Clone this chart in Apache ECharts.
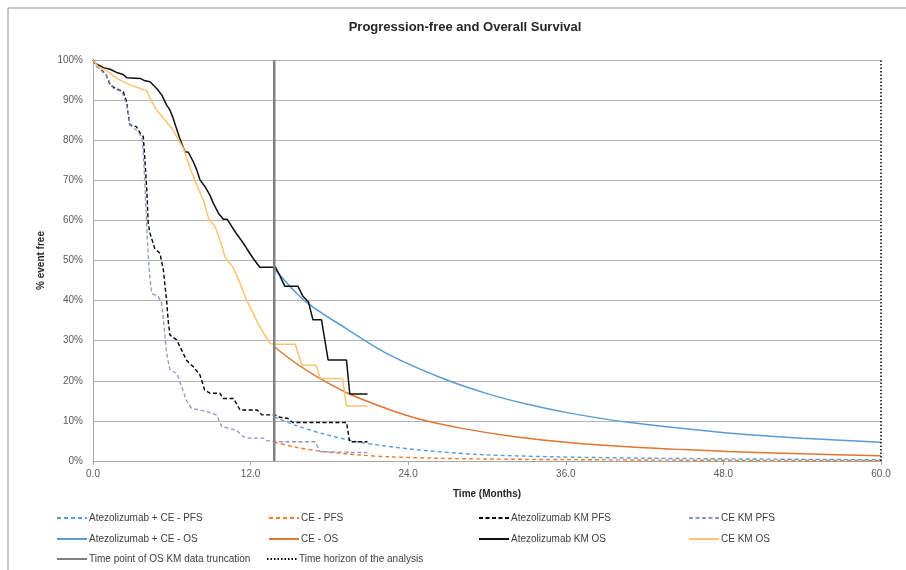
<!DOCTYPE html>
<html>
<head>
<meta charset="utf-8">
<script src="https://cdn.jsdelivr.net/npm/echarts@6/dist/echarts.min.js"></script>
<style>html,body{margin:0;padding:0;background:#fff}#c{width:906px;height:570px}</style>
</head>
<body>
<div id="c"></div>
<script>
// ---- data (months, % event free) ----
var xTicks = [0, 12, 24, 36, 48, 60];
var truncationTime = 13.8;
var horizonTime = 60;

var atezoCeOsFit = [[13.8,48],[16.1,40],[19.2,33.2],[22.5,26.6],[26.7,20.5],[30,16.8],[33,14.2],[36.2,12],[40.6,9.7],[48.3,7],[54,5.7],[60,4.7]];
var ceOsFit = [[13.8,28.5],[15.4,24.5],[17.1,20.9],[19.4,16.9],[22.5,12.9],[24.9,10.4],[28,8.2],[32,6.1],[36.2,4.6],[42,3.3],[48.3,2.4],[54,1.8],[60,1.3]];
var atezoCePfsFit = [[13.8,11],[15.5,8.8],[17.5,6.8],[20.1,4.8],[22.6,3.6],[25,2.7],[29.5,1.6],[35,1.05],[42,0.7],[50,0.5],[60,0.3]];
var cePfsFit = [[13.8,4.7],[15.5,3.4],[17.4,2.4],[20.5,1.45],[22.5,1.05],[26,0.7],[30,0.5],[36,0.35],[45,0.2],[60,0.1]];

var atezoKmOs = [[0,100],[0.15,99.2],[0.8,98.1],[1.3,97.7],[1.8,96.9],[2.3,96.4],[2.56,95.6],[3.6,95.4],[3.96,94.8],[4.34,94.6],[4.85,92.9],[5.23,91.3],[5.6,88.8],[5.86,87.5],[6.1,85.5],[6.6,80.5],[7.0,77.1],[7.26,77],[7.64,74.6],[7.9,72.6],[8.15,70.1],[8.53,68.4],[8.9,66.3],[9.16,64.3],[9.55,61.8],[9.93,60.3],[10.2,60.3],[10.4,59.3],[10.9,56.8],[11.45,54.3],[11.7,53],[12.2,50.5],[12.7,48.3],[13.9,48.3],[14.2,46.4],[14.6,43.6],[15.6,43.6],[16.0,41],[16.4,39.7],[16.75,35.2],[17.4,35.2],[17.9,25.2],[19.3,25.2],[19.55,16.7],[20.9,16.7]];
var ceKmOs = [[0,100],[0.4,98.3],[0.9,97.5],[1.3,96.7],[1.8,95.4],[2.3,94.6],[2.8,93.8],[3.6,92.9],[4.1,92.3],[4.47,89.6],[4.85,87.5],[5.36,85.5],[6.0,83],[6.37,80.9],[6.88,78],[7.4,73],[7.9,68.8],[8.4,65.1],[8.8,60.5],[9.3,58.4],[9.67,55.1],[10.05,50.9],[10.7,48.1],[11.2,44.3],[11.7,40.1],[12.2,36.8],[12.6,34],[13.0,31.8],[13.5,29.3],[13.8,29.1],[15.4,29.1],[15.9,23.9],[17.0,23.9],[17.3,20.6],[19.0,20.6],[19.3,13.7],[20.9,13.7]];
var atezoKmPfs = [[0,100],[0.5,97.9],[1.0,96.3],[1.3,93.8],[1.7,92.9],[2.3,92.1],[2.56,89.6],[2.8,83.8],[3.3,83.4],[3.6,81.7],[3.83,80.9],[3.96,74.6],[4.1,67.4],[4.2,59.3],[4.34,56.8],[4.7,53],[5.1,51.8],[5.36,47.6],[5.6,40.1],[5.74,34.5],[5.86,31.4],[6.37,30.2],[6.75,27.7],[7.1,25.2],[7.64,23.5],[8.15,21.4],[8.5,17.7],[8.9,16.9],[9.67,16.9],[9.9,15.6],[10.7,15.6],[11.2,12.7],[12.5,12.7],[12.85,11.5],[13.86,11.5],[14.1,11],[14.85,10.6],[15.2,9.6],[19.3,9.6],[19.55,4.8],[20.9,4.8]];
var ceKmPfs = [[0,100],[0.28,98.3],[1.0,96.3],[1.3,94.2],[1.55,92.9],[2.2,92.1],[2.4,90.4],[2.7,87.1],[2.8,83.8],[3.3,82.5],[3.7,80.9],[3.83,77.1],[3.96,68],[4.14,55.1],[4.3,46.8],[4.47,41.8],[4.97,41],[5.23,39.3],[5.4,34],[5.6,26.9],[5.86,22.7],[6.37,21.9],[6.75,18.5],[7.1,15.2],[7.5,13.1],[8.15,12.7],[8.66,12.3],[9.4,11.5],[9.8,8.6],[10.4,8.1],[10.9,7.7],[11.45,6.1],[11.7,5.7],[13.0,5.7],[13.2,5.1],[14.2,4.8],[16.9,4.8],[17.3,2.3],[20.9,2.1]];

var names = {
  a: 'Atezolizumab + CE - PFS', b: 'CE - PFS', c: 'Atezolizumab KM PFS', d: 'CE KM PFS',
  e: 'Atezolizumab + CE - OS', f: 'CE - OS', g: 'Atezolizumab KM OS', h: 'CE KM OS',
  i: 'Time point of OS KM data truncation', j: 'Time horizon of the analysis'
};

var FONT = "'Liberation Sans Narrow','Liberation Sans',sans-serif";
var chart = echarts.init(document.getElementById('c'));

function line(name, data, color, width, type, smooth, z) {
  return {
    name: name, type: 'line', data: data, symbol: 'none', showSymbol: false,
    smooth: smooth ? 0.3 : false, z: z || 2, animation: false,
    lineStyle: { color: color, width: width, type: type },
    itemStyle: { color: color }
  };
}

var legendPos = [
  ['a', 56, 520], ['b', 268, 520], ['c', 478, 520], ['d', 688, 520],
  ['e', 56, 541], ['f', 268, 541], ['g', 478, 541], ['h', 688, 541],
  ['i', 56, 561], ['j', 266, 561]
];
var legends = legendPos.map(function (p) {
  return {
    data: [names[p[0]]], left: p[1], top: p[2] - 7, itemWidth: 30, itemHeight: 10,
    itemGap: 0, padding: 0, selectedMode: false,
    itemStyle: { opacity: 0, borderWidth: 0 },
    textStyle: { fontFamily: FONT, fontSize: 10, color: '#404040', padding: [0, 0, 0, -3] }
  };
});

chart.setOption({
  animation: false,
  title: {
    text: 'Progression-free and Overall Survival', left: 460, textAlign: 'center', top: 16,
    textStyle: { fontFamily: FONT, fontSize: 13, fontWeight: 'bold', color: '#262626' }
  },
  legend: legends,
  grid: { left: 93, right: 25, top: 60, bottom: 109, containLabel: false },
  xAxis: {
    type: 'value', min: 0, max: 60, interval: 12,
    name: 'Time (Months)', nameLocation: 'middle', nameGap: 28,
    nameTextStyle: { fontFamily: FONT, fontSize: 10, fontWeight: 'bold', color: '#262626' },
    axisLine: { show: true, onZero: false, lineStyle: { color: '#A6A6A6', width: 1 } },
    axisTick: { show: true, length: 4, lineStyle: { color: '#A6A6A6' } },
    axisLabel: { fontFamily: FONT, fontSize: 10, color: '#595959', margin: 8,
      formatter: function (v) { return v.toFixed(1); } },
    splitLine: { show: false }
  },
  yAxis: {
    type: 'value', min: 0, max: 100, interval: 10,
    name: '% event free', nameLocation: 'middle', nameGap: 44, nameRotate: 90,
    nameTextStyle: { fontFamily: FONT, fontSize: 10, fontWeight: 'bold', color: '#262626' },
    axisLine: { show: true, lineStyle: { color: '#A6A6A6', width: 1 } },
    axisTick: { show: false },
    axisLabel: { fontFamily: FONT, fontSize: 10, color: '#595959', margin: 10,
      formatter: '{value}%' },
    splitLine: { show: true, lineStyle: { color: '#B4B4B4', width: 1.2 } }
  },
  graphic: [
    { type: 'line', shape: { x1: 8, y1: 8, x2: 906, y2: 8 }, style: { stroke: '#8C8C8C', lineWidth: 1 } },
    { type: 'line', shape: { x1: 8, y1: 8, x2: 8, y2: 570 }, style: { stroke: '#8C8C8C', lineWidth: 1 } }
  ],
  series: [
    line(names.a, atezoCePfsFit, '#5B9BD5', 1.4, [4, 3], true, 3),
    line(names.b, cePfsFit, '#ED7D31', 1.4, [4, 3], true, 3),
    line(names.c, atezoKmPfs, '#000000', 1.4, [4, 2.5], false, 4),
    line(names.d, ceKmPfs, '#8E96CC', 1.3, [4, 2.5], false, 4),
    line(names.e, atezoCeOsFit, '#5B9BD5', 1.5, 'solid', true, 3),
    line(names.f, ceOsFit, '#E07432', 1.5, 'solid', true, 3),
    line(names.g, atezoKmOs, '#111111', 1.5, 'solid', false, 4),
    line(names.h, ceKmOs, '#FFC36E', 1.5, 'solid', false, 4),
    line(names.i, [[truncationTime, 0], [truncationTime, 100]], '#808080', 2.5, 'solid', false, 6),
    line(names.j, [[horizonTime, 0], [horizonTime, 100]], '#000000', 1.5, [1.5, 2], false, 6)
  ]
});
</script>
</body>
</html>
